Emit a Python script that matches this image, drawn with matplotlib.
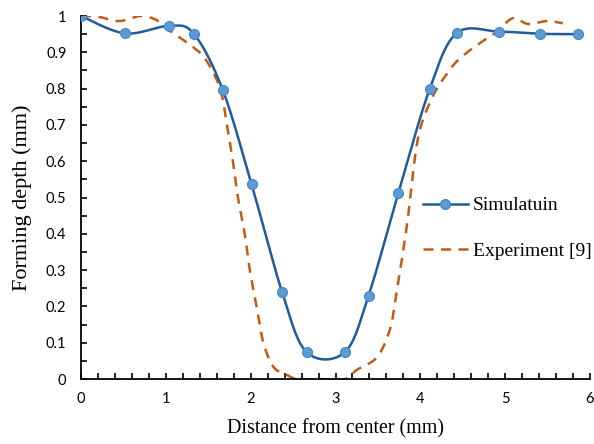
import matplotlib
matplotlib.use("Agg")
import matplotlib.pyplot as plt
import numpy as np
from matplotlib.ticker import MultipleLocator

# simulation data (markers)
sim_x = [0.0, 0.52, 1.04, 1.33, 1.67, 2.01, 2.37, 2.66, 3.11, 3.39, 3.74, 4.11, 4.43, 4.93, 5.41, 5.86]
sim_y = [1.0, 0.952, 0.973, 0.951, 0.797, 0.537, 0.240, 0.074, 0.074, 0.230, 0.512, 0.799, 0.953, 0.957, 0.951, 0.950]

# experiment [9] data
exp_x = [0.0, 0.2, 0.45, 0.7, 0.88, 1.0, 1.29, 1.47, 1.64, 1.72, 1.79, 1.85, 1.93, 1.99, 2.07,
         2.15, 2.27, 2.43, 2.55, 2.8, 3.11, 3.25, 3.49, 3.64, 3.70, 3.84, 3.97, 4.14, 4.33,
         4.47, 4.70, 4.90, 5.09, 5.27, 5.49, 5.68]
exp_y = [1.0, 0.998, 0.986, 1.0, 0.99, 0.967, 0.92, 0.88, 0.80, 0.70, 0.60, 0.50, 0.40, 0.30, 0.20,
         0.10, 0.033, 0.011, 0.0, 0.0, 0.0, 0.025, 0.06, 0.135, 0.21, 0.42, 0.66, 0.775, 0.846,
         0.884, 0.925, 0.956, 0.994, 0.978, 0.986, 0.98]

ytick_labels = ["0", "0.1", "0.2", "0.3", "0.4", "0.5", "0.6", "0.7", "0.8", "0.9", "1"]


def smooth(xs, ys, n=20):
    # Catmull-Rom style smoothing, like a spreadsheet "smoothed line"
    x = np.asarray(xs, float)
    y = np.asarray(ys, float)
    px = np.concatenate([[x[0]], x, [x[-1]]])
    py = np.concatenate([[y[0]], y, [y[-1]]])
    ox, oy = [], []
    t = np.linspace(0, 1, n, endpoint=False)
    for i in range(1, len(px) - 2):
        p0, p1, p2, p3 = px[i - 1], px[i], px[i + 1], px[i + 2]
        q0, q1, q2, q3 = py[i - 1], py[i], py[i + 1], py[i + 2]
        c1x, c1y = p1 + (p2 - p0) / 6, q1 + (q2 - q0) / 6
        c2x, c2y = p2 - (p3 - p1) / 6, q2 - (q3 - q1) / 6
        bx = (1 - t) ** 3 * p1 + 3 * (1 - t) ** 2 * t * c1x + 3 * (1 - t) * t ** 2 * c2x + t ** 3 * p2
        by = (1 - t) ** 3 * q1 + 3 * (1 - t) ** 2 * t * c1y + 3 * (1 - t) * t ** 2 * c2y + t ** 3 * q2
        ox.extend(bx)
        oy.extend(by)
    ox.append(x[-1])
    oy.append(y[-1])
    return np.array(ox), np.array(oy)


fig = plt.figure(figsize=(5.94, 4.44), dpi=100)
ax = fig.add_axes([81 / 594, 1 - 379 / 444, 509 / 594, 363 / 444])

sx, sy = smooth(sim_x, sim_y)
ex, ey = smooth(exp_x, exp_y)

ax.plot(ex, ey, color="#C55A11", lw=1.8, dashes=(4, 3), zorder=2)
ax.plot(sx, sy, color="#1F5C99", lw=1.8, zorder=3)
ax.plot(sim_x, sim_y, ls="none", marker="o", ms=7.2, mfc="#5B9BD5", mec="#4A86C0", mew=0.8, zorder=4)

# legend handles
h1, = ax.plot([], [], color="#1F5C99", lw=1.8, marker="o", ms=7, mfc="#5B9BD5", mec="#4A86C0")
h2, = ax.plot([], [], color="#C55A11", lw=1.8, dashes=(4, 3))
leg = fig.legend([h1, h2], ["Simulatuin", "Experiment [9]"], loc="center left",
                 bbox_to_anchor=(423 / 594, 1 - 228.5 / 444), frameon=False,
                 handlelength=2.3, handletextpad=0.25, borderpad=0, borderaxespad=0,
                 labelspacing=1.45, prop={"family": "Liberation Serif", "size": 14})

ax.set_xlim(0, 6)
ax.set_ylim(0, 1)
ax.xaxis.set_major_locator(MultipleLocator(1))
ax.xaxis.set_minor_locator(MultipleLocator(0.2))
ax.yaxis.set_minor_locator(MultipleLocator(0.05))
ax.set_yticks(np.arange(0, 1.01, 0.1))
ax.set_yticklabels(ytick_labels)

ax.spines["top"].set_visible(False)
ax.spines["right"].set_visible(False)
ax.spines["left"].set_linewidth(1.3)
ax.spines["bottom"].set_linewidth(1.3)
ax.tick_params(axis="x", which="both", direction="in", length=4, width=1.2, pad=9)
ax.tick_params(axis="y", which="both", direction="in", length=4, width=1.2, pad=10.5)
for lab in ax.get_xticklabels() + ax.get_yticklabels():
    lab.set_fontfamily("Lato")
    lab.set_fontsize(10.5)

ax.set_xlabel("Distance from center (mm)", fontfamily="Liberation Serif", fontsize=14.4, labelpad=10)
ax.set_ylabel("Forming depth (mm)", fontfamily="Liberation Serif", fontsize=16, labelpad=10)

fig.savefig("out.png", dpi=100)
